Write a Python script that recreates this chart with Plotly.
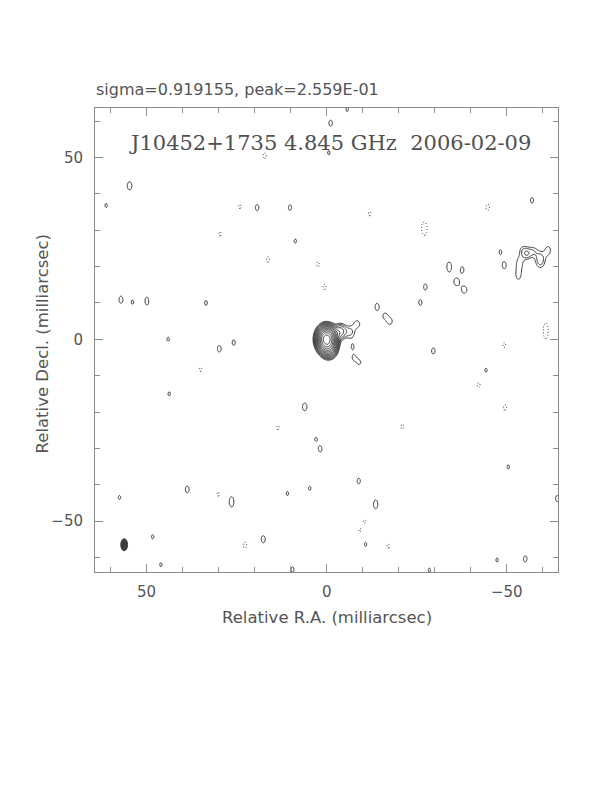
import numpy as np
import plotly.graph_objects as go

# ---------------- map metadata ----------------
sigma = 0.919155          # mJy/beam (rms)
peak = 255.9              # mJy/beam
base_level = 3 * sigma    # lowest contour
n_levels = 14             # levels base * 2^(k/2)

source_name = "J10452+1735"
freq_label = "4.845 GHz"
obs_date = "2006-02-09"

# restoring beam (mas)
beam_ra = 56.2
beam_dec = -56.5
beam_w = 1.9
beam_h = 3.3

# ---------------- brightness components read from the map ----------------
# extended source: core + jet + NW complex + knots
src_ra = [0.0, -0.6, -3.8, -6.5, -8.5, -14.0, -16.2, -17.6,
          -53.2, -53.6, -54.6, -55.6, -57.2, -59.3, -61.5,
          -34.0, -37.6, -36.0, -38.2]
src_dec = [0.0, -2.6, 2.2, 2.0, 4.3, 8.9, 6.4, 4.9,
           17.6, 21.3, 24.6, 23.3, 24.2, 21.8, 24.5,
           19.9, 19.1, 15.8, 13.6]
src_amp = [228.0, 25.0, 9.0, 4.2, 3.4, 3.5, 3.4, 3.5,
           3.2, 3.1, 3.0, 3.6, 3.2, 4.9, 3.4,
           3.8, 3.3, 3.6, 3.6]
src_wx = [3.0, 2.8, 2.5, 3.0, 2.2, 1.9, 1.9, 1.9,
          2.4, 2.5, 2.5, 2.0, 2.5, 2.8, 2.0,
          1.9, 1.9, 2.2, 2.2]
src_wy = [3.9, 3.4, 3.3, 3.5, 2.5, 3.3, 2.6, 2.6,
          4.5, 4.0, 3.0, 2.6, 3.0, 4.5, 3.2,
          4.0, 3.3, 3.0, 3.0]

# positive noise islands (beam-sized unless noted)
pos_ra = [54.7, 57.1, 53.9, 49.9, 33.5, 44.0, 29.8, 25.8, 6.1, 19.3, 10.2, 8.7,
          -1.1, -0.6, -5.7, 61.2, -57.0, -48.2, -49.3, -27.4, -26.0, -29.6, -44.2,
          -50.4, -8.9, -13.6, -10.8, -64.0, -47.3, -55.1, -28.5, 3.0, 1.8, 57.5,
          38.7, 26.4, 17.6, 10.9, 4.7, 48.3, 46.0, 9.5, 43.7, -7.2, -7.6, -9.1]
pos_dec = [42.2, 10.9, 10.2, 10.5, 10.0, 0.0, -2.6, -0.9, -18.6, 36.2, 36.2, 27.0,
           59.4, 51.3, 63.2, 36.8, 38.2, 24.0, 20.3, 14.4, 10.1, -3.2, -8.5,
           -35.1, -39.0, -45.4, -56.4, -43.8, -60.7, -60.4, -63.5, -27.4, -30.2, -43.5,
           -41.3, -44.7, -55.0, -42.4, -41.0, -54.3, -62.0, -63.3, -15.0, -2.1, -5.2, -6.4]
pos_amp = [3.8, 3.5, 3.0, 3.4, 3.1, 3.0, 3.4, 3.2, 3.7, 3.3, 3.2, 3.0,
           3.3, 3.0, 3.0, 3.0, 3.2, 3.0, 3.4, 3.3, 3.2, 3.3, 3.0,
           3.0, 3.2, 3.6, 3.0, 3.3, 3.0, 3.3, 3.0, 2.95, 3.3, 3.0,
           3.4, 3.8, 3.5, 3.0, 3.0, 3.0, 3.0, 3.2, 3.0, 2.95, 2.95, 2.95]
pos_wy = [3.3, 3.3, 3.3, 4.0, 3.3, 3.3, 3.3, 3.3, 3.3, 3.3, 3.3, 3.3,
          3.3, 3.3, 3.3, 3.3, 3.3, 3.3, 3.3, 3.3, 3.3, 3.3, 3.3,
          3.3, 3.3, 4.0, 3.3, 3.3, 3.3, 3.3, 3.3, 2.6, 3.0, 3.3,
          3.3, 4.2, 3.3, 3.3, 3.3, 3.3, 3.3, 3.3, 3.3, 3.3, 2.5, 2.5]

# negative noise islands (dotted contours)
neg_ra = [-27.1, -60.8, -44.7, -11.9, 17.2, 16.3, 2.4, 0.6, 24.1, 29.6, 35.0,
          -49.3, -42.2, -49.5, -21.0, 13.5, 22.7, -10.6, -9.2, -17.1, 30.1]
neg_dec = [30.4, 2.3, 36.3, 34.5, 50.5, 21.9, 20.6, 14.4, 36.5, 29.0, -8.3,
           -1.6, -12.6, -18.8, -24.0, -24.3, -56.6, -50.0, -52.6, -56.9, -42.6]
neg_amp = [-4.4, -4.0, -3.3, -3.0, -3.2, -3.2, -3.1, -3.2, -3.0, -3.0, -3.0,
           -3.1, -3.1, -3.2, -3.1, -3.0, -3.3, -2.9, -2.9, -3.0, -3.0]
neg_wy = [4.5, 6.0, 3.3, 3.3, 3.3, 3.3, 3.3, 3.3, 3.3, 3.3, 3.3,
          3.3, 3.3, 3.3, 3.3, 3.3, 3.3, 2.8, 2.8, 3.3, 3.3]

# ---------------- build image ----------------
step = 0.25
xg = np.arange(-65.0, 65.0 + step / 2, step)
yg = np.arange(-65.0, 65.0 + step / 2, step)
X, Y = np.meshgrid(xg, yg)
k4 = 4 * np.log(2)


def add(img, x0, y0, a, wx, wy):
    img += a * np.exp(-k4 * ((X - x0) ** 2 / wx ** 2 + (Y - y0) ** 2 / wy ** 2))


img = np.zeros_like(X)
for i in range(len(src_ra)):
    add(img, src_ra[i], src_dec[i], src_amp[i], src_wx[i], src_wy[i])
for i in range(len(pos_ra)):
    add(img, pos_ra[i], pos_dec[i], pos_amp[i], beam_w, pos_wy[i])
for i in range(len(neg_ra)):
    add(img, neg_ra[i], neg_dec[i], neg_amp[i], beam_w, neg_wy[i])

# log-spaced levels (factor sqrt 2) -> uniform spacing on a log scale
z_pos = np.clip(2 * np.log2(np.maximum(img, 1e-4) / base_level), -2, None).round(2)
z_neg = np.clip(2 * np.log2(np.maximum(-img, 1e-4) / base_level), -2, None).round(2)

line_col = "#333333"
fig = go.Figure()
fig.add_trace(go.Contour(
    x=xg, y=yg, z=z_pos, showscale=False, hoverinfo="skip",
    contours=dict(start=0, end=n_levels - 1, size=1, coloring="none"),
    line=dict(color=line_col, width=1, smoothing=0.6),
))
fig.add_trace(go.Contour(
    x=xg, y=yg, z=z_neg, showscale=False, hoverinfo="skip",
    contours=dict(start=0, end=0.5, size=1, coloring="none"),
    line=dict(color=line_col, width=1, dash="1px,2px", smoothing=0.6),
))

# restoring beam
fig.add_shape(type="circle", xref="x", yref="y",
              x0=beam_ra - beam_w / 2, x1=beam_ra + beam_w / 2,
              y0=beam_dec - beam_h / 2, y1=beam_dec + beam_h / 2,
              fillcolor="#3c3c3c", line=dict(color="#3c3c3c", width=1))

tick_col = "#8a8a8a"
txt_col = "#555555"
sans = "DejaVu Sans"
axis_common = dict(
    showgrid=False, zeroline=False, showline=True, linecolor=tick_col, linewidth=1,
    mirror="allticks", ticks="inside", ticklen=8, tickwidth=1, tickcolor=tick_col,
    tickvals=[-50, 0, 50], tickfont=dict(family=sans, size=15, color=txt_col),
    minor=dict(dtick=10, tick0=0, ticks="inside", ticklen=5, tickcolor=tick_col),
)
fig.update_xaxes(range=[64.3, -64.2], ticklabelstandoff=6, **axis_common)
fig.update_yaxes(range=[-64.0, 63.6], ticklabelstandoff=8, **axis_common)

fig.add_annotation(xref="paper", yref="paper", x=-0.002, y=1.0388, xanchor="left",
                   yanchor="middle", showarrow=False,
                   text=f"sigma={sigma}, peak={peak / 1000:.3E}",
                   font=dict(family=sans, size=16, color=txt_col))
fig.add_annotation(xref="paper", yref="paper", x=0.5076, y=0.9246, xanchor="center",
                   yanchor="middle", showarrow=False,
                   text=f"{source_name} {freq_label}\u00a0\u00a0{obs_date}",
                   font=dict(family="DejaVu Serif", size=21, color="#505050"))
fig.add_annotation(xref="paper", yref="paper", x=0.5, y=-0.097, xanchor="center",
                   yanchor="middle", showarrow=False, text="Relative R.A. (milliarcsec)",
                   font=dict(family=sans, size=16.5, color=txt_col))
fig.add_annotation(xref="paper", yref="paper", x=-0.1145, y=0.4925, xanchor="center",
                   yanchor="middle", showarrow=False, textangle=-90,
                   text="Relative Decl. (milliarcsec)",
                   font=dict(family=sans, size=16.5, color=txt_col))

# page body has an 8px default margin: size the figure to fit the 612x792 window
fig.update_layout(width=596, height=776, autosize=False,
                  margin=dict(l=87, r=46, t=100, b=212),
                  plot_bgcolor="white", paper_bgcolor="white", showlegend=False)
fig.write_html("out.html")
